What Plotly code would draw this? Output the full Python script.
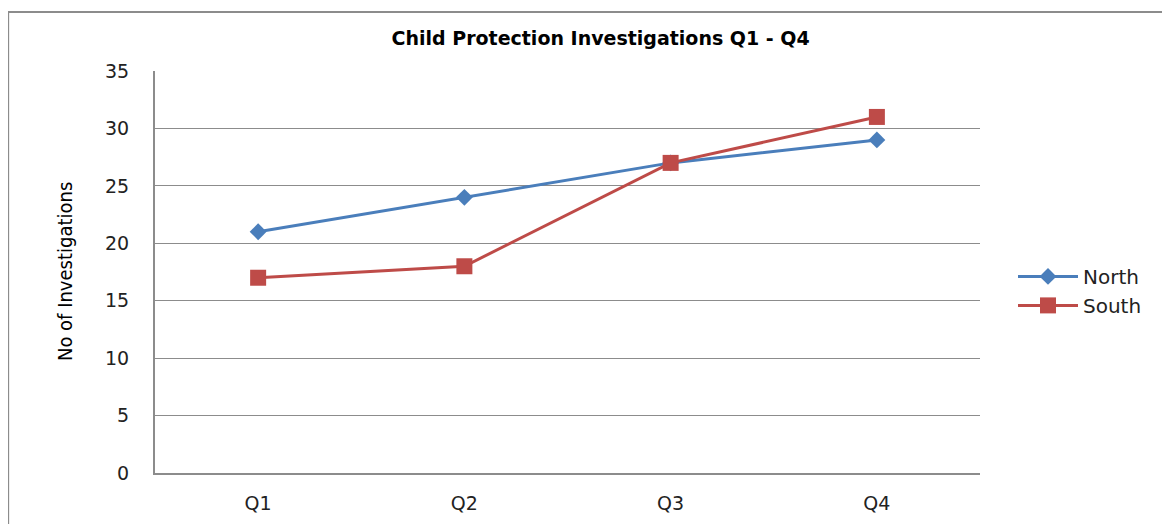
import plotly.graph_objects as go

# datos
quarters = ['Q1', 'Q2', 'Q3', 'Q4']
north = [21, 24, 27, 29]
south = [17, 18, 27, 31]
y_ticks = [0, 5, 10, 15, 20, 25, 30, 35]

fig = go.Figure()

fig.add_trace(go.Scatter(
    x=quarters, y=north, name='North', mode='lines+markers',
    line=dict(color='#4A7EBB', width=3),
    marker=dict(symbol='diamond', size=13, color='#4A7EBB')))

fig.add_trace(go.Scatter(
    x=quarters, y=south, name='South', mode='lines+markers',
    line=dict(color='#BE4B48', width=3),
    marker=dict(symbol='square', size=16, color='#BE4B48')))

# borde exterior del grafico
fig.add_shape(type='rect', xref='paper', yref='paper',
              x0=-0.178, x1=1.3, y0=-0.3, y1=1.147,
              line=dict(color='#8c8c8c', width=2), layer='below')

fig.add_annotation(text='No of Investigations', xref='paper', yref='paper',
                   x=-0.109, y=0.5, xanchor='center', yanchor='middle',
                   textangle=-90, showarrow=False,
                   font=dict(family='DejaVu Sans Condensed, Liberation Sans Narrow, Liberation Sans, sans-serif',
                             size=20, color='black'))

fig.update_layout(
    width=1162, height=516,
    margin=dict(l=147, r=190, t=63, b=51),
    paper_bgcolor='white', plot_bgcolor='white',
    title=dict(text='<b>Child Protection Investigations Q1 - Q4</b>',
               x=0.51, xanchor='center', y=0.941, yanchor='middle',
               font=dict(family='DejaVu Sans', size=19, color='black')),
    xaxis=dict(range=[-0.5, 3.5], showgrid=False, showline=True,
               linecolor='#8c8c8c', linewidth=2, ticks='', automargin=False,
               ticklabelstandoff=12,
               tickfont=dict(family='DejaVu Sans', size=19, color='#222')),
    yaxis=dict(range=[0, 35], tickvals=y_ticks, showgrid=True,
               gridcolor='#8c8c8c', gridwidth=1.3, showline=True,
               linecolor='#8c8c8c', linewidth=2, zeroline=False, mirror=False,
               ticks='', ticklabelstandoff=20, automargin=False,
               tickfont=dict(family='DejaVu Sans', size=19, color='#222')),
    legend=dict(x=1.04, y=0.453, xanchor='left', yanchor='middle',
                font=dict(family='DejaVu Sans', size=20, color='#222'),
                bgcolor='rgba(0,0,0,0)', itemwidth=60),
    showlegend=True,
)

fig.write_html('out.html')
